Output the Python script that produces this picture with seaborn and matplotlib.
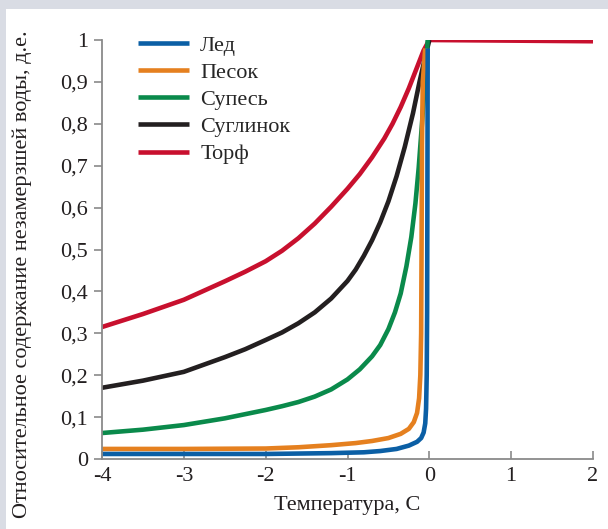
import matplotlib
matplotlib.use("Agg")
import matplotlib.pyplot as plt
import seaborn as sns
from matplotlib.patches import Rectangle

# Данные
led_t = [-4, -2, -1.2, -0.8, -0.6, -0.4, -0.25, -0.15, -0.1, -0.07, -0.05, -0.04, -0.032,
         -0.027, -0.024, -0.02]
led_w = [0.012, 0.012, 0.014, 0.016, 0.019, 0.024, 0.032, 0.041, 0.05, 0.063, 0.085, 0.12, 0.2,
         0.35, 0.6, 0.98]

pesok_t = [-4, -3, -2, -1.6, -1.2, -0.9, -0.7, -0.5, -0.35, -0.25, -0.19, -0.15, -0.125, -0.11,
           -0.1, -0.095, -0.09, -0.08, -0.05]
pesok_w = [0.024, 0.024, 0.025, 0.028, 0.033, 0.038, 0.043, 0.05, 0.06, 0.072, 0.088, 0.11, 0.145,
           0.2, 0.3, 0.5, 0.75, 0.9, 0.98]

supes_t = [-4, -3.5, -3, -2.5, -2, -1.8, -1.6, -1.4, -1.2, -1.0, -0.85, -0.7, -0.6, -0.5, -0.42,
           -0.35, -0.28, -0.22, -0.17, -0.13, -0.09, -0.05, -0.02]
supes_w = [0.062, 0.07, 0.081, 0.097, 0.117, 0.126, 0.136, 0.149, 0.166, 0.19, 0.214, 0.245, 0.272,
           0.31, 0.35, 0.395, 0.46, 0.53, 0.61, 0.695, 0.8, 0.91, 1.0]

suglinok_t = [-4, -3.5, -3, -2.5, -2.25, -2, -1.8, -1.6, -1.4, -1.2, -1.0, -0.9, -0.8, -0.7, -0.6,
              -0.5, -0.4, -0.3, -0.2, -0.12, -0.05, 0]
suglinok_w = [0.17, 0.187, 0.208, 0.243, 0.262, 0.284, 0.302, 0.324, 0.35, 0.383, 0.425, 0.452, 0.485,
              0.522, 0.565, 0.615, 0.675, 0.745, 0.825, 0.9, 0.96, 1.0]

torf_t = [-4, -3.5, -3, -2.5, -2.25, -2, -1.8, -1.6, -1.4, -1.2, -1.0, -0.85, -0.7, -0.55, -0.45,
          -0.35, -0.25, -0.15, -0.07, 0, 2]
torf_w = [0.315, 0.346, 0.38, 0.424, 0.447, 0.472, 0.497, 0.527, 0.562, 0.602, 0.645, 0.68, 0.72,
          0.765, 0.8, 0.84, 0.885, 0.935, 0.975, 1.0, 0.997]

serii = [
    ("Лед", led_t, led_w, "#0b5fa5"),
    ("Песок", pesok_t, pesok_w, "#e5801f"),
    ("Супесь", supes_t, supes_w, "#0a8a4b"),
    ("Суглинок", suglinok_t, suglinok_w, "#231f20"),
    ("Торф", torf_t, torf_w, "#c8102e"),
]

x_ticks = [-4, -3, -2, -1, 0, 1, 2]
x_labels = ["-4", "-3", "-2", "-1", "0", "1", "2"]
y_ticks = [0, 0.1, 0.2, 0.3, 0.4, 0.5, 0.6, 0.7, 0.8, 0.9, 1.0]
y_labels = ["0", "0,1", "0,2", "0,3", "0,4", "0,5", "0,6", "0,7", "0,8", "0,9", "1"]

sns.set_style("white")
plt.rcParams["font.family"] = ["Liberation Serif", "DejaVu Serif"]

fig = plt.figure(figsize=(6.08, 5.29), dpi=100)
fig.patch.set_facecolor("#d9dce4")
fig.patches.append(Rectangle((6 / 608, 0), 1, 1 - 9 / 529, transform=fig.transFigure,
                             facecolor="white", edgecolor="none", zorder=-5))
ax = fig.add_axes([102 / 608, 1 - 459 / 529, 491 / 608, 419 / 529])
ax.set_facecolor("none")
ax.set_zorder(2)

# рисуем в обратном порядке, чтобы лёд был сверху
for name, t, w, c in serii[::-1]:
    sns.lineplot(x=t, y=w, ax=ax, color=c, linewidth=3.3, sort=False,
                 label=name, solid_capstyle="butt", solid_joinstyle="round")

ax.set_xlim(-4, 2)
ax.set_ylim(0, 1)
ax.set_xticks(x_ticks)
ax.set_xticklabels(x_labels)
ax.set_yticks(y_ticks)
ax.set_yticklabels(y_labels)

for s in ["top", "right"]:
    ax.spines[s].set_visible(False)
for s in ["left", "bottom"]:
    ax.spines[s].set_color("#8a8a8a")
    ax.spines[s].set_linewidth(1.3)

ax.tick_params(axis="x", direction="in", length=6, width=1.2, color="#8a8a8a",
               labelsize=16, pad=6, bottom=True)
ax.tick_params(axis="y", direction="out", length=6, width=1.2, color="#8a8a8a",
               labelsize=16, pad=4, left=True)
for lbl in ax.get_xticklabels() + ax.get_yticklabels():
    lbl.set_color("#231f20")

ax.set_xlabel("Температура, С", fontsize=16, color="#231f20", labelpad=7)
ax.set_ylabel("Относительное содержание незамерзшей воды, д.е.", fontsize=16,
              color="#231f20", va="center")
ax.yaxis.set_label_coords(-0.162, 0.44)

handles, labels = ax.get_legend_handles_labels()
ax.legend(handles[::-1], labels[::-1], loc="upper left",
          bbox_to_anchor=(118 / 608, 1 - 15 / 529), bbox_transform=fig.transFigure,
          frameon=False, fontsize=16, handlelength=2.3, handletextpad=0.5,
          labelspacing=0.3)

fig.savefig("out.png", dpi=100)
